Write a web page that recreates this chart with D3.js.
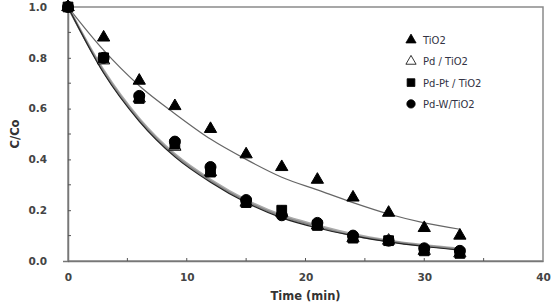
<!DOCTYPE html>
<meta charset="utf-8">
<style>
body { margin: 0; background: #fff; }
text { font-family: Verdana, "DejaVu Sans", sans-serif; }
</style>
<script src="https://d3js.org/d3.v7.min.js"></script>
<div id="chart"></div>
<script>
// measured times (min)
var times = [0, 3, 6, 9, 12, 15, 18, 21, 24, 27, 30, 33];
var tio2 = [1.0, 0.88, 0.71, 0.61, 0.52, 0.42, 0.37, 0.32, 0.25, 0.19, 0.13, 0.10];
var pdTio2 = [1.0, 0.79, 0.64, 0.45, 0.35, 0.23, 0.19, 0.14, 0.09, 0.08, 0.04, 0.03];
var pdptTio2 = [1.0, 0.80, 0.64, 0.46, 0.35, 0.23, 0.20, 0.14, 0.09, 0.08, 0.04, 0.03];
var pdwTio2 = [1.0, 0.80, 0.65, 0.47, 0.37, 0.24, 0.18, 0.15, 0.10, 0.08, 0.05, 0.04];

// fitted curves
var fitTimes = [0, 3, 6, 9, 12, 15, 18, 21, 24, 27, 30, 33];
var fitTio2 = [1.0, 0.83, 0.69, 0.58, 0.48, 0.40, 0.33, 0.28, 0.23, 0.185, 0.15, 0.125];
var fitPd = [1.0, 0.74, 0.55, 0.41, 0.31, 0.23, 0.17, 0.13, 0.10, 0.075, 0.057, 0.043];
var fitPdpt = [1.0, 0.745, 0.555, 0.415, 0.315, 0.235, 0.175, 0.135, 0.10, 0.078, 0.06, 0.046];
var fitPdw = [1.0, 0.75, 0.56, 0.42, 0.32, 0.24, 0.18, 0.14, 0.105, 0.08, 0.062, 0.048];

var xTicks = [0, 10, 20, 30, 40];
var yTicks = [0, 0.2, 0.4, 0.6, 0.8, 1.0];
var legendNames = ["TiO2", "Pd / TiO2", "Pd-Pt / TiO2", "Pd-W/TiO2"];

var W = 556, H = 306;
var margin = {top: 7, right: 13, bottom: 45, left: 68};
var width = W - margin.left - margin.right,
    height = H - margin.top - margin.bottom;

var svg = d3.select("#chart").append("svg")
    .attr("width", W).attr("height", H);
var g = svg.append("g")
    .attr("transform", "translate(" + margin.left + "," + margin.top + ")");

var x = d3.scaleLinear().domain([0, 40]).range([0, width]);
var y = d3.scaleLinear().domain([0, 1]).range([height, 0]);

// frame
g.append("rect")
    .attr("width", width).attr("height", height)
    .attr("fill", "none").attr("stroke", "#8a8a8a").attr("stroke-width", 1.5);

// y axis
var yAxis = d3.axisLeft(y).tickValues(yTicks).tickFormat(d3.format(".1f"))
    .tickSize(5).tickPadding(16);
var ya = g.append("g").call(yAxis);
ya.select(".domain").attr("stroke", "#777").attr("stroke-width", 1.5);
ya.selectAll(".tick line").attr("stroke", "#555").attr("x2", 3).attr("x1", 0);
ya.selectAll("text").attr("font-size", 10.5).attr("font-weight", "bold").attr("fill", "#444");
// minor y ticks
g.append("g").selectAll("line")
    .data(d3.range(1, 10, 2).map(function(d) { return d / 10; }))
    .enter().append("line")
    .attr("x1", 0).attr("x2", 3)
    .attr("y1", function(d) { return y(d); }).attr("y2", function(d) { return y(d); })
    .attr("stroke", "#555");

// x axis
var xAxis = d3.axisBottom(x).tickValues(xTicks).tickSize(0).tickPadding(13);
var xa = g.append("g").attr("transform", "translate(0," + height + ")").call(xAxis);
xa.select(".domain").attr("stroke", "#777").attr("stroke-width", 1.5);
xa.selectAll("text").attr("font-size", 10.5).attr("font-weight", "bold").attr("fill", "#444");
g.append("g").selectAll("line")
    .data([5, 10, 15, 20, 25, 30, 35])
    .enter().append("line")
    .attr("x1", function(d) { return x(d); }).attr("x2", function(d) { return x(d); })
    .attr("y1", height).attr("y2", height - 3)
    .attr("stroke", "#555");

// axis titles
svg.append("text")
    .attr("transform", "translate(19," + (margin.top + height / 2) + ") rotate(-90)")
    .attr("text-anchor", "middle")
    .attr("font-size", 11.5).attr("font-weight", "bold").attr("fill", "#333")
    .text("C/Co");
svg.append("text")
    .attr("x", margin.left + x(20)).attr("y", 300)
    .attr("text-anchor", "middle")
    .attr("font-size", 11.5).attr("font-weight", "bold").attr("fill", "#333")
    .text("Time (min)");

// fit lines
var line = d3.line()
    .x(function(d) { return x(d[0]); })
    .y(function(d) { return y(d[1]); })
    .curve(d3.curveMonotoneX);
function fitPath(vals, color, w) {
    g.append("path")
        .datum(fitTimes.map(function(t, i) { return [t, vals[i]]; }))
        .attr("d", line)
        .attr("fill", "none").attr("stroke", color).attr("stroke-width", w);
}
fitPath(fitTio2, "#666", 1.2);
fitPath(fitPdw, "#aaa", 2.5);
fitPath(fitPdpt, "#888", 2);
fitPath(fitPd, "#222", 1.2);

// markers
var tri = d3.symbol().type(d3.symbolTriangle).size(65);
var sq = d3.symbol().type(d3.symbolSquare).size(95);
var circ = d3.symbol().type(d3.symbolCircle).size(95);
function markers(vals, sym, fill) {
    g.append("g").selectAll("path")
        .data(times.map(function(t, i) { return [t, vals[i]]; }))
        .enter().append("path")
        .attr("d", sym)
        .attr("transform", function(d) { return "translate(" + x(d[0]) + "," + y(d[1]) + ")"; })
        .attr("fill", fill)
        .attr("stroke", "#000").attr("stroke-width", 1);
}
markers(pdTio2, tri, "#fff");
markers(pdwTio2, circ, "#000");
markers(pdptTio2, sq, "#000");
markers(tio2, tri, "#000");

// legend
var leg = svg.append("g").attr("transform", "translate(411,40)");
var legSyms = [[d3.symbol().type(d3.symbolTriangle).size(45), "#000"],
               [d3.symbol().type(d3.symbolTriangle).size(45), "#fff"],
               [d3.symbol().type(d3.symbolSquare).size(60), "#000"],
               [d3.symbol().type(d3.symbolCircle).size(55), "#000"]];
legendNames.forEach(function(name, i) {
    var row = leg.append("g").attr("transform", "translate(0," + (i * 21.3) + ")");
    row.append("path").attr("d", legSyms[i][0])
        .attr("fill", legSyms[i][1]).attr("stroke", "#000").attr("stroke-width", 0.8);
    row.append("text").attr("x", 12).attr("y", 4)
        .attr("font-size", 10).attr("fill", "#334")
        .attr("font-family", "'Open Sans', sans-serif")
        .text(name);
});
</script>
